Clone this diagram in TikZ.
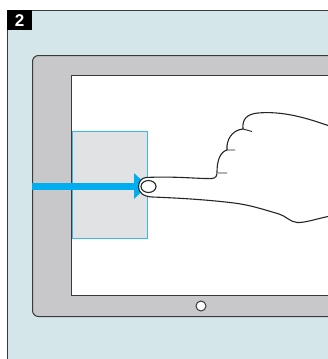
\documentclass[tikz,border=0pt]{standalone}
\usepackage{fontspec}
\setmainfont{Liberation Sans}
\usepackage{tikz}
\usetikzlibrary{arrows.meta,positioning}
\definecolor{panelblue}{HTML}{D5E6EB}
\definecolor{bezelgray}{HTML}{C8C8CA}
\definecolor{panegray}{HTML}{E1E2E4}
\definecolor{paneedge}{HTML}{3DB7EA}
\definecolor{swipeblue}{HTML}{00AEEF}
\definecolor{ink}{HTML}{3A3A3C}
\tikzstyle{outline}=[draw=ink,line width=1pt]
\tikzstyle{numbox}=[fill=black,text=white,font=\bfseries\fontsize{17}{17}\selectfont,minimum width=25pt,minimum height=20pt,inner sep=0]
\tikzstyle{pane}=[draw=paneedge,fill=panegray,line width=1pt,minimum width=75pt,minimum height=107pt,inner sep=0]
\tikzstyle{homebtn}=[outline,fill=white,circle,minimum size=10pt,inner sep=0]
\tikzstyle{swipe}=[draw=swipeblue,line width=7pt,-{Triangle[length=14pt,width=25pt]}]
\tikzstyle{hand}=[draw=black!85,fill=white,line width=1.1pt,line join=round]

\begin{document}
\begin{tikzpicture}[x=1pt,y=-1pt]
	\useasboundingbox (0,0) rectangle (328,359);
	\clip (0,0) rectangle (328,359);
	% panel and step number
	\path[outline,fill=panelblue] (7.5,10.5) rectangle (400,400);
	\node[numbox,anchor=north west] (num) at (7,10) {2};
	% tablet
	\path[outline,fill=bezelgray,rounded corners=6pt] (32.5,55.5) rectangle (400,316.5);
	\path[outline,fill=white] (71.5,75.5) rectangle (400,295.5);
	\node[homebtn] (home) at (201,306) {};
	% sliding pane and swipe
	\node[pane] (pane) at (110,185) {};
	\coordinate (edge) at (32,186);
	\path[swipe] (edge) -- (pane.east |- edge);
	% hand
	\path[hand] (146,177.5) .. controls (175,176) and (200,179) .. (212,178.5)
		.. controls (216,178) and (217,176) .. (217,172)
		.. controls (217,161) and (220,152) .. (227,150)
		.. controls (226,140) and (232,130) .. (243,129)
		.. controls (242,119) and (247,114) .. (258,113)
		.. controls (282,111) and (305,117) .. (335,128)
		-- (335,215)
		.. controls (315,219) and (305,223) .. (297,222.5)
		.. controls (290,222) and (286,216) .. (279,214)
		.. controls (262,209) and (250,205) .. (234,203)
		.. controls (210,200) and (180,198) .. (152,197)
		.. controls (143,196.5) and (138.5,192) .. (138.5,187)
		.. controls (138.5,181) and (142,178) .. (146,177.5) -- cycle;
	\path[hand] (148.5,186.5) ellipse [x radius=7.5, y radius=6];
	\path[hand,fill=none,line width=0.9pt] (218,173) -- (227,173) (227,150) -- (235,150) (243,129) -- (252,131.5);
\end{tikzpicture}
\end{document}
